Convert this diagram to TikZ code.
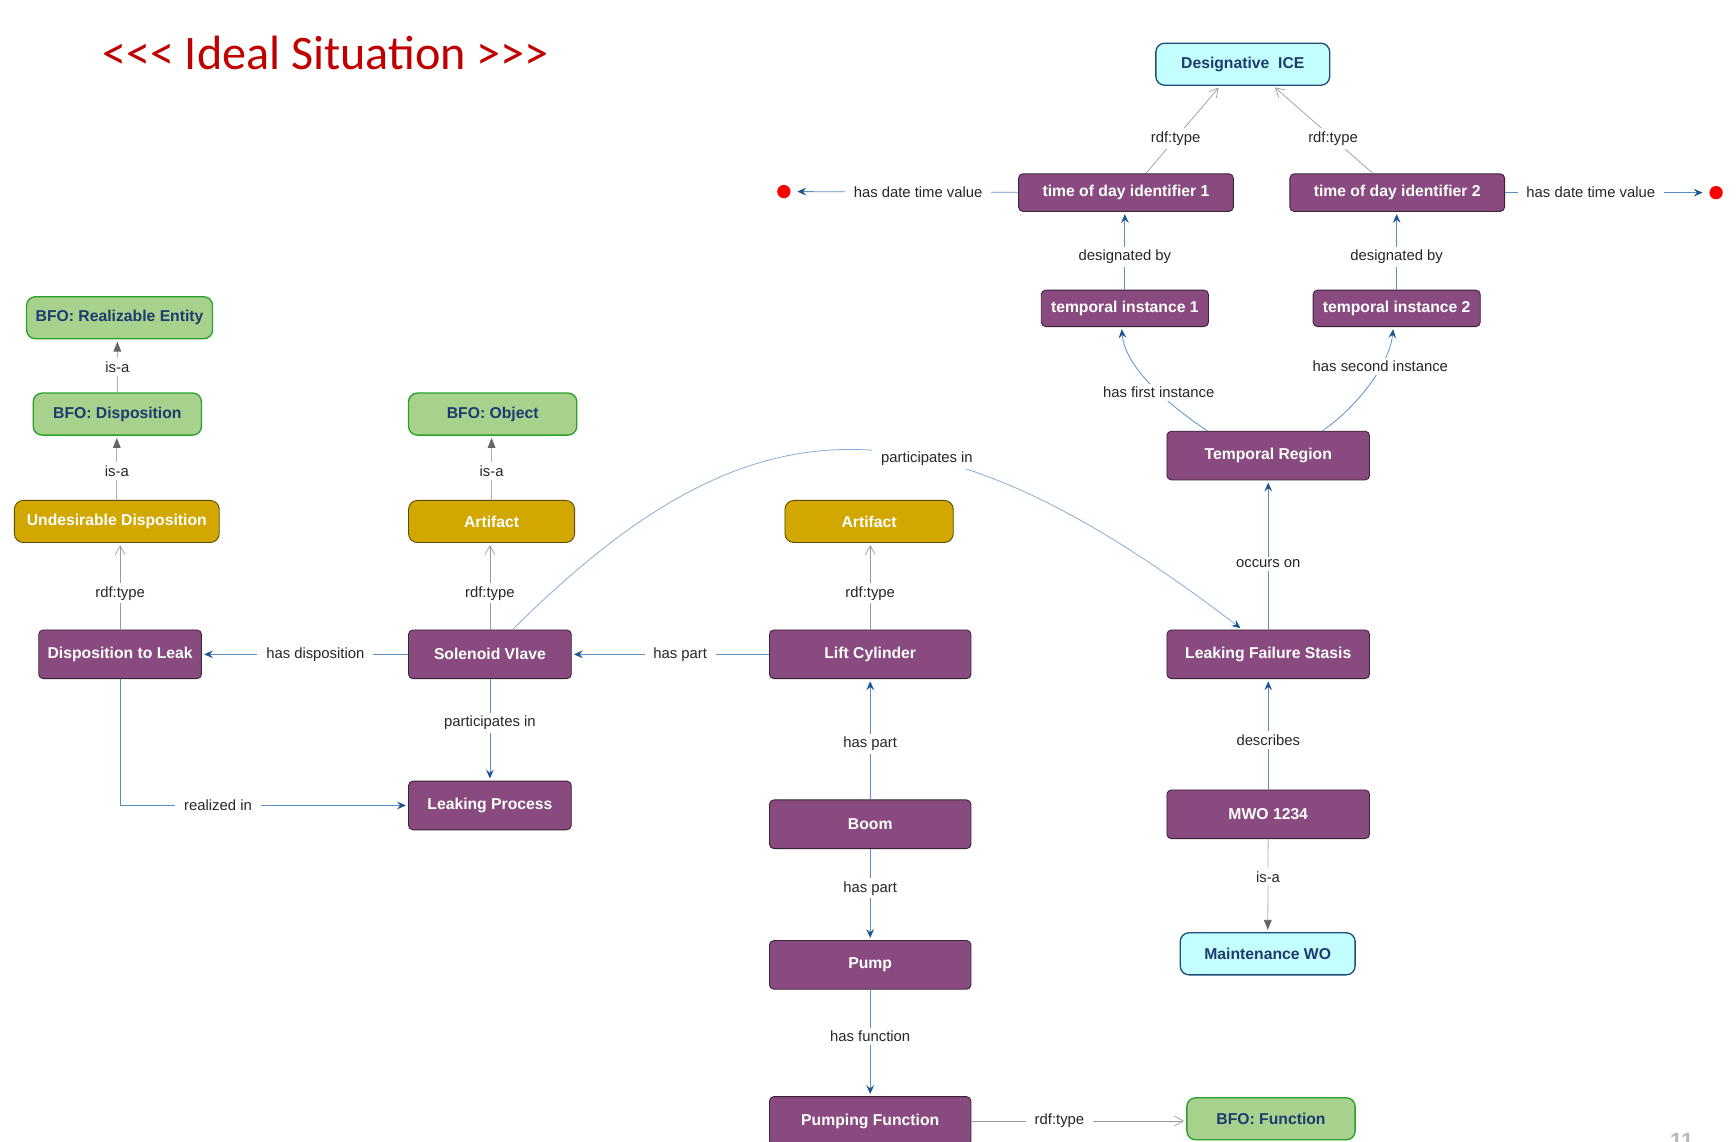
\documentclass[tikz,border=0pt]{standalone}
\usepackage{fontspec}
\setmainfont{Liberation Sans}
\newfontfamily\titlefont{Carlito}
\usetikzlibrary{arrows.meta}
\definecolor{purp}{HTML}{894A80}
\definecolor{purpline}{HTML}{3A2436}
\definecolor{gold}{HTML}{D1A700}
\definecolor{goldline}{HTML}{5C4A00}
\definecolor{grn}{HTML}{A9D18E}
\definecolor{grnline}{HTML}{2BA02B}
\definecolor{cyn}{HTML}{C4FFFF}
\definecolor{cynline}{HTML}{1F4E79}
\definecolor{navy}{HTML}{1F3A6E}
\definecolor{eblue}{HTML}{5B8FC4}
\definecolor{tipblue}{HTML}{1A5590}
\definecolor{titlered}{HTML}{C00000}
\begin{document}
\begin{tikzpicture}[x=1pt,y=-1pt,
  box/.style={rectangle, minimum width=#1, minimum height=44pt, inner sep=0pt,
    font=\fontsize{14.2}{17}\selectfont\bfseries},
  pbox/.style={box={#1}, fill=purp, draw=purpline, line width=0.8pt, rounded corners=4pt, text=white},
  gdbox/.style={box={#1}, minimum height=38pt, fill=gold, draw=goldline, line width=0.8pt, rounded corners=8pt, text=white},
  grbox/.style={box={#1}, minimum height=38pt, fill=grn, draw=grnline, line width=1.2pt, rounded corners=8pt, text=navy},
  cbox/.style={box={#1}, minimum height=38pt, fill=cyn, draw=cynline, line width=1.2pt, rounded corners=8pt, text=navy},
  dot/.style={circle, fill=red, inner sep=0pt, minimum size=12pt},
  lbl/.style={fill=white, inner xsep=8pt, inner ysep=3pt, font=\fontsize{13.4}{15}\selectfont, text=black!85},
  bedge/.style={draw=eblue, line width=0.7pt, -{Stealth[length=8pt,width=7pt,inset=3pt,color=tipblue]}, shorten >=2pt},
  tedge/.style={draw=gray!80, line width=0.6pt, -{Straight Barb[length=8pt,width=9pt,line width=0.6pt]}, shorten >=2pt},
  iedge/.style={draw=gray!60, line width=0.7pt, -{Triangle[length=9pt,width=7pt,color=black!60]}, shorten >=2pt}
]
\useasboundingbox (0,0) rectangle (1568,1031);
\clip (0,0) rectangle (1568,1031);
\fill[white] (0,0) rectangle (1568,1031);

\node[anchor=base west, text=titlered, inner sep=0pt, font=\titlefont\fontsize{43.5}{50}\selectfont] (title) at (92,63) {<<< Ideal Situation >>>};

% purple instance nodes
\node[pbox=194, minimum height=34pt] (tod1) at (1017,174) {time of day identifier 1};
\node[pbox=194, minimum height=34pt] (tod2) at (1262,174) {time of day identifier 2};
\node[pbox=151, minimum height=33pt] (ti1) at (1016,278.5) {temporal instance 1};
\node[pbox=151, minimum height=33pt] (ti2) at (1261.5,278.5) {temporal instance 2};
\node[pbox=183] (tr) at (1145.5,411.5) {Temporal Region};
\node[pbox=183] (lfs) at (1145.5,591) {Leaking Failure Stasis};
\node[pbox=183] (mwo) at (1145.5,735.5) {MWO 1234};
\node[pbox=147] (dtl) at (108.5,591) {Disposition to Leak};
\node[pbox=147] (sv) at (442.5,591) {Solenoid Vlave};
\node[pbox=182] (lc) at (786,591) {Lift Cylinder};
\node[pbox=147] (lp) at (442.5,727.5) {Leaking Process};
\node[pbox=182] (boom) at (786,744.5) {Boom};
\node[pbox=182] (pump) at (786,871.5) {Pump};
\node[pbox=182] (pf) at (786,1012.5) {Pumping Function};

% green BFO nodes
\node[grbox=168] (bre) at (108,287) {BFO: Realizable Entity};
\node[grbox=152] (bdisp) at (106,374) {BFO: Disposition};
\node[grbox=152] (bobj) at (445,374) {BFO: Object};
\node[grbox=152] (bfunc) at (1148,1010.5) {BFO: Function};

% gold class nodes
\node[gdbox=185] (und) at (105.5,471) {Undesirable Disposition};
\node[gdbox=150] (art1) at (444,471) {Artifact};
\node[gdbox=152] (art2) at (785,471) {Artifact};

% cyan nodes
\node[cbox=157] (ice) at (1122.5,58) {Designative\ \ ICE};
\node[cbox=158] (mwoc) at (1145,861.5) {Maintenance WO};

% red value dots
\node[dot] (dot1) at (708,173) {};
\node[dot] (dot2) at (1550,174) {};

% page number (cut off at the lower edge, as in the source slide)
\node[anchor=north, inner sep=0pt, text=gray!55, font=\fontsize{20}{22}\selectfont\bfseries] (pgno) at (1519,1023) {11};

% blue relation edges
\draw[bedge] (sv) -- node[lbl,pos=.45]{has disposition} (dtl);
\draw[bedge] (lc) -- node[lbl,pos=.45]{has part} (sv);
\draw[bedge] (sv) -- node[lbl,pos=.43]{participates in} (lp);
\draw[bedge] (dtl.south) |- node[lbl,pos=.67]{realized in} (lp.west);
\draw[bedge] (boom) -- node[lbl,pos=.46]{has part} (lc);
\draw[bedge] (boom) -- node[lbl,pos=.43]{has part} (pump);
\draw[bedge] (pump) -- node[lbl,pos=.44]{has function} (pf);
\draw[bedge] (lfs) -- node[lbl,pos=.44]{occurs on} (tr);
\draw[bedge] (mwo) -- node[lbl,pos=.45]{describes} (lfs);
\draw[bedge] (ti1) -- node[lbl,pos=.42]{designated by} (ti1 |- tod1.south);
\draw[bedge] (ti2) -- node[lbl,pos=.42]{designated by} (ti2 |- tod2.south);
\draw[bedge, shorten >=6pt] (tod1) -- node[lbl,pos=.44]{has date time value} (dot1);
\draw[bedge, shorten >=6pt] (tod2) -- node[lbl,pos=.42]{has date time value} (dot2);
\draw[bedge] ([xshift=-55pt]tr.north) .. controls (1050,362) and (1016,330) .. ([xshift=-3pt]ti1.south) node[lbl,pos=.4]{has first instance};
\draw[bedge] ([xshift=49pt]tr.north) .. controls (1225,368) and (1255,330) .. ([xshift=-3pt]ti2.south) node[lbl,pos=.66]{has second instance};
\draw[bedge, draw=eblue!75] ([xshift=20.5pt]sv.north) .. controls (673,360) and (830,345) .. ([xshift=-23.5pt]lfs.north) node[lbl,pos=.62]{participates in};

% rdf:type edges
\draw[tedge] (dtl) -- node[lbl,pos=.42]{rdf:type} (dtl |- und.south);
\draw[tedge] (sv) -- node[lbl,pos=.42]{rdf:type} (sv |- art1.south);
\draw[tedge] (lc) -- node[lbl,pos=.42]{rdf:type} (lc |- art2.south);
\draw[tedge] (pf) -- node[lbl,pos=.41]{rdf:type} (pf -| bfunc.west);
\draw[tedge] ([xshift=18pt]tod1.north) -- node[lbl,pos=.4]{rdf:type} ([xshift=-20.5pt]ice.south);
\draw[tedge] ([xshift=-22pt]tod2.north) -- node[lbl,pos=.4]{rdf:type} ([xshift=27.5pt]ice.south);

% is-a edges
\draw[iedge] (und) -- node[lbl,pos=.45]{is-a} (und |- bdisp.south);
\draw[iedge] (bdisp) -- node[lbl,pos=.48]{is-a} (bdisp |- bre.south);
\draw[iedge] (art1) -- node[lbl,pos=.45]{is-a} (art1 |- bobj.south);
\draw[iedge] (mwo) -- node[lbl,pos=.41]{is-a} (mwoc);
\end{tikzpicture}
\end{document}
